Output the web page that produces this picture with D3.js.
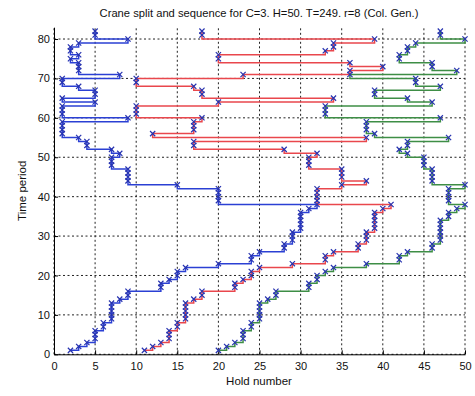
<!DOCTYPE html>
<html><head><meta charset="utf-8">
<script src="https://cdn.jsdelivr.net/npm/d3@7"></script>
<style>
body{margin:0;background:#fff;}
svg{display:block;}
text{font-family:"Liberation Sans",Arial,Helvetica,sans-serif;fill:#111;}
</style>
</head><body>
<svg id="chart" width="475" height="396"></svg>
<script>
const title = "Crane split and sequence for C=3. H=50. T=249. r=8 (Col. Gen.)";
const xLabel = "Hold number";
const yLabel = "Time period";
const xTicks = [0, 5, 10, 15, 20, 25, 30, 35, 40, 45, 50];
const yTicks = [0, 10, 20, 30, 40, 50, 60, 70, 80];
const timePeriods = [1,2,3,4,5,6,7,8,9,10,11,12,13,14,15,16,17,18,19,20,
  21,22,23,24,25,26,27,28,29,30,31,32,33,34,35,36,37,38,39,40,
  41,42,43,44,45,46,47,48,49,50,51,52,53,54,55,56,57,58,59,60,
  61,62,63,64,65,66,67,68,69,70,71,72,73,74,75,76,77,78,79,80,81,82];
const crane1Holds = [2,3,4,5,5,5,6,6,7,7,7,7,7,8,9,9,13,13,14,15,
  15,16,20,24,24,25,28,28,29,29,29,30,30,30,30,30,31,32,20,20,
  20,20,15,9,9,9,9,7,7,7,8,7,4,4,3,1,1,1,1,9,
  1,1,1,5,1,5,5,3,1,1,8,3,3,3,2,3,2,2,3,9,5,5];
const crane2Holds = [11,12,13,14,14,14,15,15,16,16,16,16,16,17,18,18,22,22,23,24,
  24,25,29,33,33,34,37,37,38,38,38,39,39,39,39,39,40,41,32,32,
  32,32,35,38,35,35,35,31,31,31,32,28,17,17,38,12,17,17,17,18,
  10,10,10,20,34,18,18,17,10,10,23,36,40,36,20,20,33,34,34,39,18,18];
const crane3Holds = [20,21,22,23,23,23,24,24,25,25,25,25,25,26,27,27,31,31,32,32,
  33,34,38,42,42,43,46,46,47,47,47,47,47,47,48,48,49,50,48,48,
  48,48,50,46,46,46,46,45,45,45,43,42,43,43,48,39,38,38,38,47,
  33,33,33,46,43,39,39,47,44,44,36,49,46,46,42,42,43,43,44,50,47,47];
const craneColors = ["#2b40d4", "#e9474d", "#3e8e46"];
const markerColor = "#2733b0";

const svg = d3.select("#chart");
const x = d3.scaleLinear().domain([0, 50]).range([54, 465]);
const y = d3.scaleLinear().domain([0, 83]).range([354.3, 27.2]);

// grid
const grid = svg.append("g");
grid.selectAll("line.gx").data(xTicks).join("line")
  .attr("x1", d => x(d)).attr("x2", d => x(d))
  .attr("y1", y(0)).attr("y2", y(83))
  .attr("stroke", "#222").attr("stroke-width", 1).attr("stroke-dasharray", "2,2.5");
grid.selectAll("line.gy").data(yTicks).join("line")
  .attr("x1", x(0)).attr("x2", x(50))
  .attr("y1", d => y(d)).attr("y2", d => y(d))
  .attr("stroke", "#222").attr("stroke-width", 1).attr("stroke-dasharray", "2,2.5");

// axes
const xAxis = d3.axisBottom(x).tickValues(xTicks).tickFormat(d3.format("d"))
  .tickSizeInner(-4).tickSizeOuter(0).tickPadding(7.7);
const yAxis = d3.axisLeft(y).tickValues(yTicks).tickFormat(d3.format("d"))
  .tickSizeInner(-4).tickSizeOuter(0).tickPadding(4);
const gx = svg.append("g").attr("transform", `translate(0,${y(0)})`).call(xAxis);
const gy = svg.append("g").attr("transform", `translate(${x(0)},0)`).call(yAxis);
[gx, gy].forEach(g => {
  g.select(".domain").attr("stroke", "#000").attr("stroke-width", 1);
  g.selectAll(".tick line").attr("stroke", "#000");
  g.selectAll(".tick text").attr("font-size", 11).attr("fill", "#111")
    .attr("font-family", "Liberation Sans, Arial, sans-serif");
});

// crane paths
const cranes = [crane1Holds, crane2Holds, crane3Holds];
const line = d3.line().x(d => x(d[0])).y(d => y(d[1])).curve(d3.curveStepAfter);
const lineG = svg.append("g");
cranes.forEach((holds, i) => {
  const pts = holds.map((h, k) => [h, timePeriods[k]]);
  lineG.append("path").datum(pts)
    .attr("d", line).attr("fill", "none")
    .attr("stroke", craneColors[i]).attr("stroke-width", 1.5);
});
const markG = svg.append("g");
cranes.forEach(holds => {
  const pts = holds.map((h, k) => [h, timePeriods[k]]);
  markG.selectAll(null).data(pts).join("path")
    .attr("d", d => {
      const cx = x(d[0]), cy = y(d[1]), s = 2.6;
      return `M${cx-s},${cy-s}L${cx+s},${cy+s}M${cx-s},${cy+s}L${cx+s},${cy-s}`;
    })
    .attr("stroke", markerColor).attr("stroke-width", 1.2).attr("fill", "none");
});

// texts
svg.append("text").attr("x", 259).attr("y", 17).attr("text-anchor", "middle")
  .attr("font-size", 11.2).text(title);
svg.append("text").attr("x", 259).attr("y", 385).attr("text-anchor", "middle")
  .attr("font-size", 11.5).text(xLabel);
svg.append("text").attr("transform", `translate(26,${(y(0)+y(83))/2}) rotate(-90)`)
  .attr("text-anchor", "middle").attr("font-size", 11.5).text(yLabel);
</script>
</body></html>
